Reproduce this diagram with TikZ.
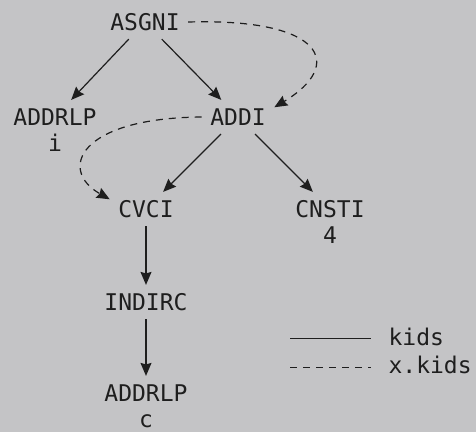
\documentclass[tikz,border=0pt]{standalone}
\usepackage{fontspec}
\setmonofont{DejaVu Sans Mono}
\usetikzlibrary{arrows.meta}
\definecolor{bgcol}{RGB}{196,196,198}
\definecolor{inkcol}{RGB}{30,30,30}

\begin{document}
\begin{tikzpicture}[x=1pt,y=-1pt,line width=1.2pt,
  >={Stealth[length=13pt,width=11pt,inset=1.5pt]},
  op/.style={font=\ttfamily\fontsize{23}{27}\selectfont,text=inkcol,
    text height=17pt,text depth=0pt,inner xsep=8pt,inner ysep=8pt,
    label distance=6pt},
  lbl/.style={font=\ttfamily\fontsize{23}{27}\selectfont,text=inkcol,
    text height=17pt,text depth=0pt,inner sep=0pt},
  kid/.style={->,draw=inkcol},
  xkid/.style={->,draw=inkcol,dash pattern=on 7pt off 6pt}]
% ---------- background ----------
\fill[bgcol] (0,0) rectangle (476,432);
\useasboundingbox (0,0) rectangle (476,432);
% ---------- dag nodes ----------
\node[op] (asgni)   at (145,22)  {ASGNI};
\node[op,label={[lbl]below:i}] (addrlpi) at (55,117) {ADDRLP};
\node[op] (addi)    at (238,117) {ADDI};
\node[op] (cvci)    at (146,209) {CVCI};
\node[op,label={[lbl]below:4}] (cnsti) at (330,209) {CNSTI};
\node[op] (indirc)  at (146,302) {INDIRC};
\node[op,label distance=3pt,label={[lbl]below:c}] (addrlpc) at (146,393) {ADDRLP};
% ---------- kids ----------
\draw[kid] (asgni) -- (addrlpi);
\draw[kid] (asgni) -- (addi);
\draw[kid] (addi) -- (cvci);
\draw[kid] (addi) -- (cnsti);
\draw[kid] (cvci) -- (indirc);
\draw[kid] (indirc) -- (addrlpc);
% ---------- x.kids ----------
\draw[xkid] (asgni.east) .. controls (325,18) and (345,65) .. (addi.15);
\draw[xkid] (addi.west) .. controls (78,118) and (58,170) .. (cvci.165);
% ---------- legend ----------
\coordinate (kidsA) at (290,338);
\coordinate (kidsB) at (371,338);
\coordinate (xkidsA) at (290,367);
\coordinate (xkidsB) at (371,367);
\draw[draw=inkcol,line width=0.8pt] (kidsA) -- (kidsB);
\draw[draw=inkcol,line width=0.8pt,dash pattern=on 7pt off 6pt] (xkidsA) -- (xkidsB);
\node[lbl,anchor=base west] (kidstxt) at (388,345) {kids};
\node[lbl,anchor=base west] (xkidstxt) at (388,373) {x.kids};
\end{tikzpicture}
\end{document}
